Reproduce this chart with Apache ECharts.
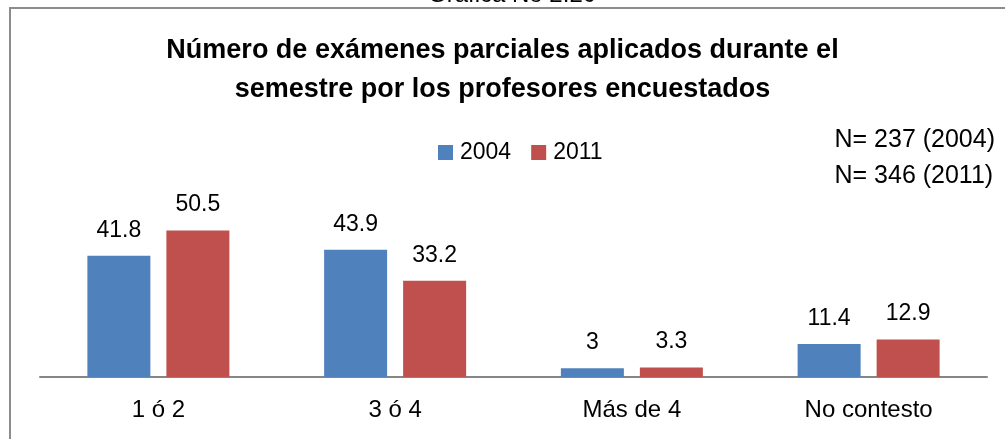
<!DOCTYPE html>
<html>
<head>
<meta charset="utf-8">
<script src="https://cdn.jsdelivr.net/npm/echarts@6/dist/echarts.min.js"></script>
<style>
    html, body { margin: 0; padding: 0; background: #fff; }
    #main { width: 1005px; height: 439px; }
</style>
</head>
<body>
<div id="main"></div>
<script>
// datos de la grafica
var categorias = ['1 ó 2', '3 ó 4', 'Más de 4', 'No contesto'];
var datos2004 = [41.8, 43.9, 3, 11.4];
var datos2011 = [50.5, 33.2, 3.3, 12.9];
var notas = ['N= 237 (2004)', 'N= 346 (2011)'];

var fuente = 'Liberation Sans';

var myChart = echarts.init(document.getElementById('main'));

function etiqueta() {
    return {
        show: true,
        position: 'top',
        distance: 14,
        color: '#000',
        fontSize: 23,
        fontFamily: fuente
    };
}

var option = {
    animation: false,
    backgroundColor: '#fff',
    title: {
        text: 'Número de exámenes parciales aplicados durante el\nsemestre por los profesores encuestados',
        left: 'center',
        top: 26,
        textStyle: {
            fontFamily: fuente,
            fontWeight: 'bold',
            fontSize: 27,
            lineHeight: 39,
            color: '#000'
        }
    },
    legend: {
        data: ['2004', '2011'],
        top: 136,
        left: 433,
        itemWidth: 15,
        itemHeight: 15,
        itemGap: 20,
        icon: 'rect',
        textStyle: { fontFamily: fuente, fontSize: 23, color: '#000', padding: [0, 0, 0, 2] }
    },
    grid: {
        left: 40,
        right: 18,
        top: 203,
        bottom: 62
    },
    xAxis: {
        type: 'category',
        data: categorias,
        axisLine: { lineStyle: { color: '#868686', width: 2 } },
        axisTick: { show: false },
        axisLabel: {
            margin: 21,
            color: '#000',
            fontSize: 24,
            fontFamily: fuente
        }
    },
    yAxis: {
        type: 'value',
        min: 0,
        max: 60,
        show: false
    },
    graphic: [
        {
            type: 'polyline',
            shape: { points: [[10, 445], [10, 8], [1010, 8]] },
            style: { stroke: '#8c8c8c', lineWidth: 2, fill: null }
        },
        {
            type: 'text',
            left: 428,
            top: -17,
            style: { text: 'Gráfica No 2.20', fontFamily: fuente, fontSize: 24, fill: '#000' }
        },
        {
            type: 'text',
            right: 10,
            top: 122,
            style: {
                text: notas.join('\n'),
                fontFamily: fuente,
                fontSize: 25,
                lineHeight: 36,
                align: 'right',
                fill: '#000'
            }
        }
    ],
    series: [
        {
            name: '2004',
            type: 'bar',
            data: datos2004,
            barWidth: 63,
            barGap: '25.4%',
            itemStyle: { color: '#4F81BD' },
            label: etiqueta()
        },
        {
            name: '2011',
            type: 'bar',
            data: datos2011,
            barWidth: 63,
            itemStyle: { color: '#C0504D' },
            label: etiqueta()
        }
    ]
};
myChart.setOption(option);
</script>
</body>
</html>
